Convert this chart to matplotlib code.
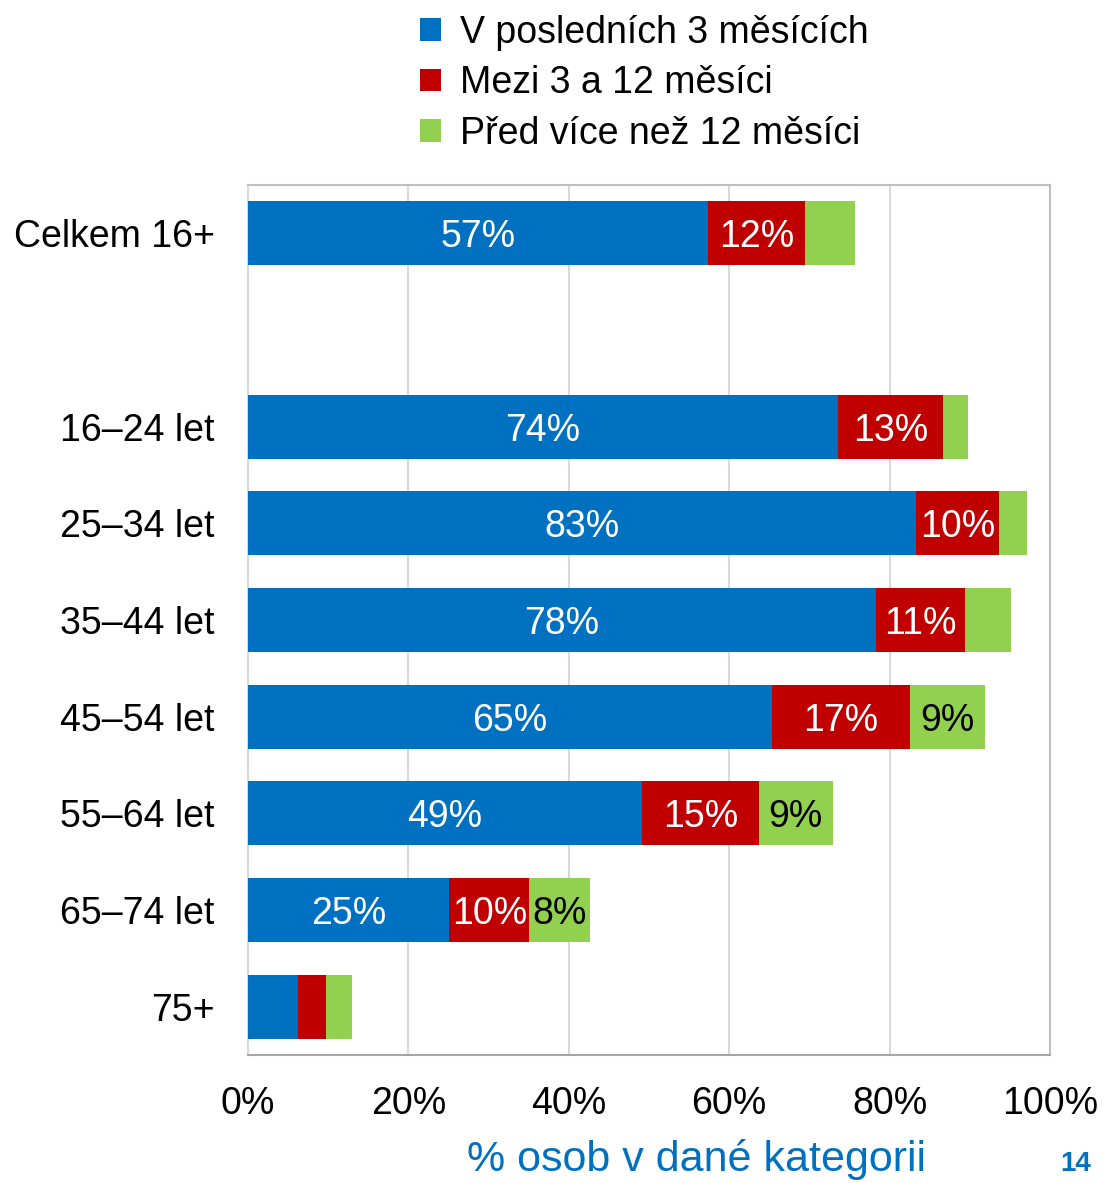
import numpy as np
import matplotlib.pyplot as plt
from matplotlib.patches import Patch

plt.rcParams['font.family'] = ['Liberation Sans', 'DejaVu Sans']

categories = ['Celkem 16+', '', '16–24 let', '25–34 let', '35–44 let',
              '45–54 let', '55–64 let', '65–74 let', '75+']
# empty slot (index 1) is a spacer row
recent = [57.4, 0, 73.6, 83.3, 78.3, 65.4, 49.1, 25.1, 6.2]
mid = [12.0, 0, 13.1, 10.3, 11.1, 17.1, 14.6, 10.0, 3.5]
older = [6.3, 0, 3.1, 3.6, 5.7, 9.4, 9.2, 7.6, 3.3]
series_names = ['V posledních 3 měsících', 'Mezi 3 a 12 měsíci', 'Před více než 12 měsíci']
colors = ['#0070C0', '#C00000', '#92D050']
text_colors = ['white', 'white', 'black']
xticks = [0, 20, 40, 60, 80, 100]

fig = plt.figure(figsize=(11.04, 11.83), dpi=100)
ax = fig.add_axes([0.2246, 0.1082, 0.7264, 0.7354])

y = np.arange(len(categories))
left = np.zeros(len(categories))
for vals, c, tc in zip([recent, mid, older], colors, text_colors):
    vals = np.array(vals)
    bars = ax.barh(y, vals, left=left, height=0.66, color=c, zorder=3)
    for b, v in zip(bars, vals):
        if v >= 7:
            ax.text(b.get_x() + b.get_width() / 2, b.get_y() + b.get_height() / 2,
                    f'{round(v):.0f}%', ha='center', va='center_baseline',
                    color=tc, fontsize=27, zorder=4)
    left += vals

ax.set_xlim(0, 100)
ax.set_ylim(len(categories) - 0.5, -0.5)
ax.set_yticks(y)
ax.set_yticklabels(categories, fontsize=27)
ax.set_xticks(xticks)
ax.set_xticklabels([f'{t}%' for t in xticks], fontsize=27)
ax.tick_params(axis='y', length=0, pad=24)
ax.tick_params(axis='x', length=0, pad=22)
ax.grid(axis='x', color='#D9D9D9', linewidth=1.5, zorder=0)
ax.spines['left'].set_color('#D9D9D9')
ax.spines['bottom'].set_color('#A6A6A6')
ax.spines['top'].set_color('#BFBFBF')
ax.spines['right'].set_color('#BFBFBF')
for s in ax.spines.values():
    s.set_linewidth(1.5)

handles = [Patch(facecolor=c, edgecolor='none') for c in colors]
fig.legend(handles, series_names, loc='upper left', bbox_to_anchor=(0.35, 1.016),
           frameon=False, fontsize=27, handlelength=0.55, handleheight=0.55,
           handletextpad=0.5, labelspacing=0.385)

fig.text(0.631, 0.0195, '% osob v dané kategorii', color='#0070C0', fontsize=31,
         ha='center', va='center')
fig.text(0.974, 0.016, '14', color='#0070C0', fontsize=20, fontweight='bold',
         ha='center', va='center')

fig.savefig('out.png', dpi=100)
